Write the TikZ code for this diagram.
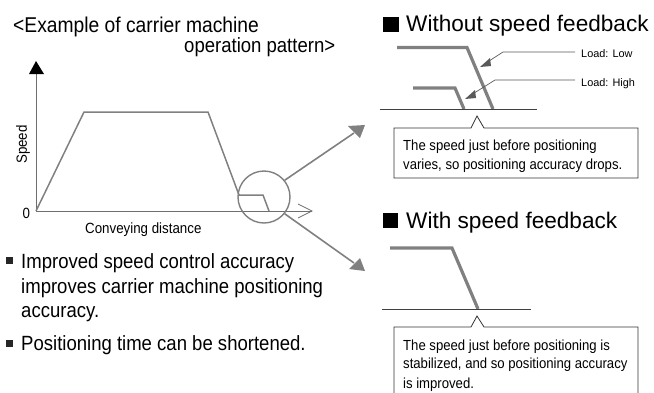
\documentclass[tikz,border=0pt]{standalone}
\usepackage{fontspec}
\setmainfont{Liberation Sans}
\newfontfamily\narrowfont[FakeStretch=0.9]{Liberation Sans}
\begin{document}
\begin{tikzpicture}[x=1pt,y=-1pt,
  curve/.style={draw=curvegray,line width=1.5pt,line join=miter},
  thickcurve/.style={draw=curvegray,line width=3.2pt,line join=miter},
  axisline/.style={draw=axisgray,line width=0.9pt},
  thinline/.style={draw=black!75,line width=0.8pt},
  fat/.style={draw=curvegray,line width=1.6pt},
  leader/.style={draw=black!65,line width=0.7pt},
  headtxt/.style={anchor=base west,font=\fontsize{22.6}{24}\selectfont,inner sep=0pt},
  bigtxt/.style={anchor=base west,font=\narrowfont\fontsize{20.6}{23}\selectfont,inner sep=0pt},
  smalltxt/.style={anchor=base west,font=\narrowfont\fontsize{14.8}{16}\selectfont,inner sep=0pt},
  tinytxt/.style={anchor=base west,font=\fontsize{10.9}{12}\selectfont,inner sep=0pt},
  calltxt/.style={anchor=base west,font=\narrowfont\fontsize{14.6}{16}\selectfont,inner sep=0pt},
  callbox/.style={draw=black!80,line width=0.8pt,fill=white},
  bullet/.style={fill=black!85,draw=none}]
\definecolor{curvegray}{RGB}{128,128,128}
\definecolor{axisgray}{RGB}{110,110,110}
\definecolor{headgray}{RGB}{90,90,90}
\useasboundingbox (0,0) rectangle (654,392);
% top left title
\node[bigtxt,font=\narrowfont\fontsize{21.4}{23}\selectfont] (t1) at (13,32) {<Example of carrier machine};
\node[bigtxt] (t2) at (184,52) {operation pattern>};
% axes
\coordinate (o) at (36,211);
\coordinate (ytop) at (36,70);
\coordinate (xend) at (312,211);
\draw[axisline] (o) -- (ytop);
\fill[black] (36,61) -- (44,74) -- (29,74) -- cycle;
\draw[axisline] (o) -- (xend);
\draw[draw=axisgray,line width=0.7pt] (298,204) -- (xend) -- (298,218);
\node[smalltxt,rotate=90] (sp) at (27,164) {Speed};
\node[smalltxt] (zero) at (22.5,218) {0};
\node[smalltxt] (cd) at (85,233) {Conveying distance};
\draw[curve] (o) -- (84,112) -- (208,112) -- (239,195);
\draw[curve] (239,195) -- (263,195) -- (269,211);
\node[draw=curvegray,line width=1.4pt,circle,minimum size=52pt,inner sep=0pt] (c) at (264,197) {};
% big arrows
\coordinate (u) at (365,125);
\coordinate (l) at (365,271);
\draw[fat] (c.39) -- (354,133);
\fill[curvegray] (u) -- (360,138) -- (348,126) -- cycle;
\draw[fat] (c.-39) -- (354,263);
\fill[curvegray] (l) -- (349,269) -- (360,258) -- cycle;
% bullets
\fill[bullet] (6,257) rectangle (13,264);
\node[bigtxt] (b1) at (21,268) {Improved speed control accuracy};
\node[bigtxt] (b2) at (21,293) {improves carrier machine positioning};
\node[bigtxt] (b3) at (21,317) {accuracy.};
\fill[bullet] (6,340) rectangle (13,347);
\node[bigtxt] (b4) at (21,350) {Positioning time can be shortened.};
% upper right
\fill[black] (382.5,17) rectangle (399,32);
\node[headtxt] (h1) at (406,31) {Without speed feedback};
\draw[thickcurve] (397,47.5) -- (467,47.5) -- (493,109);
\draw[thickcurve] (413,88) -- (455,88) -- (464,109);
\draw[thinline] (380,109) -- (537,109);
\node[tinytxt] (lo) at (581,57) {Load: Low};
\node[tinytxt] (hi) at (581,86) {Load: High};
\coordinate (la) at (480,67);
\coordinate (ha) at (465,99);
\draw[leader] (575,52) -- (503,52) -- (486,63);
\fill[headgray] (la) -- (491,66) -- (490,58) -- cycle;
\draw[leader] (575,80) -- (495,80) -- (471,95);
\fill[headgray] (ha) -- (476,98) -- (475,90) -- cycle;
\draw[callbox] (394,128) -- (471,128) -- (477,116) -- (484,128) -- (638,128) -- (638,178) -- (394,178) -- cycle;
\node[calltxt] (c1) at (403,150) {The speed just before positioning};
\node[calltxt] (c2) at (403,169) {varies, so positioning accuracy drops.};
% lower right
\fill[black] (383,213) rectangle (398,228);
\node[headtxt] (h2) at (406,228) {With speed feedback};
\draw[thickcurve] (390,248) -- (452,248) -- (478,309);
\draw[thinline] (382,309) -- (531,309);
\draw[callbox] (394,393) -- (394,327) -- (471,327) -- (477,316) -- (484,327) -- (638,327) -- (638,393);
\node[calltxt] (c3) at (403,350) {The speed just before positioning is};
\node[calltxt] (c4) at (403,368) {stabilized, and so positioning accuracy};
\node[calltxt] (c5) at (403,388) {is improved.};
\end{tikzpicture}
\end{document}
